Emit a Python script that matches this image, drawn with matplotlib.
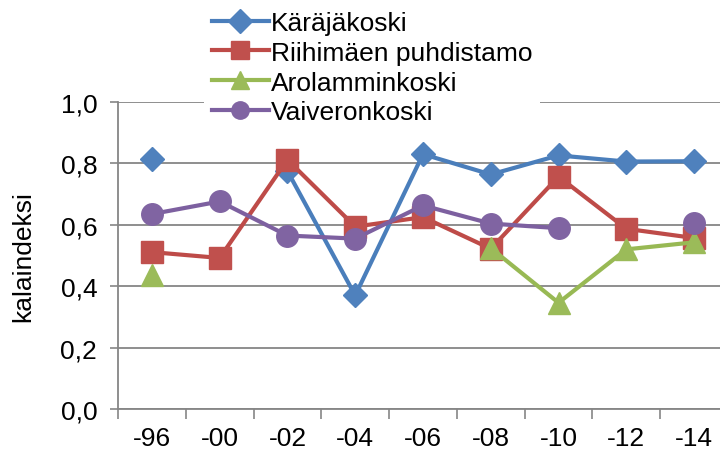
import numpy as np
import matplotlib
matplotlib.use("Agg")
import matplotlib.pyplot as plt

categories = ["-96", "-00", "-02", "-04", "-06", "-08", "-10", "-12", "-14"]
karajakoski = [0.815, np.nan, 0.775, 0.37, 0.83, 0.764, 0.826, 0.806, 0.807]
riihimaki = [0.511, 0.492, 0.812, 0.594, 0.625, 0.522, 0.757, 0.587, 0.557]
arolamminkoski = [0.438, np.nan, np.nan, np.nan, np.nan, 0.524, 0.346, 0.52, 0.543]
vaiveronkoski = [0.635, 0.676, 0.565, 0.555, 0.663, 0.604, 0.589, np.nan, 0.605]
series_names = ["Käräjäkoski", "Riihimäen puhdistamo", "Arolamminkoski", "Vaiveronkoski"]
y_ticks = [0.0, 0.2, 0.4, 0.6, 0.8, 1.0]

plt.rcParams['font.family'] = ['Liberation Sans', 'DejaVu Sans']
FS = 19

W, H = 720, 452
fig = plt.figure(figsize=(W / 100, H / 100), dpi=100)
ax_left, ax_right, ax_bottom, ax_top = 118, 728, 410, 103
ax = fig.add_axes([ax_left / W, (H - ax_bottom) / H, (ax_right - ax_left) / W, (ax_bottom - ax_top) / H])

x = np.arange(len(categories))
styles = [
    dict(color="#4A7EBB", marker="D", markersize=12.5, mfc="#4F81BD", mec="#4F81BD"),
    dict(color="#BE4B48", marker="s", markersize=15.5, mfc="#C0504D", mec="#C0504D"),
    dict(color="#98B954", marker="^", markersize=15.5, mfc="#9BBB59", mec="#9BBB59"),
    dict(color="#7D60A0", marker="o", markersize=15.5, mfc="#8064A2", mec="#8064A2"),
]
data = [karajakoski, riihimaki, arolamminkoski, vaiveronkoski]
for vals, name, st in zip(data, series_names, styles):
    ax.plot(x, vals, lw=3.0, label=name, clip_on=False, **st)

ax.set_xlim(-0.5, len(categories) - 0.5)
ax.set_ylim(0, 1.0)
ax.set_yticks(y_ticks)
ax.set_yticklabels([f"{v:.1f}".replace(".", ",") for v in y_ticks])
ax.set_xticks(np.arange(-0.5, len(categories), 1.0))
ax.set_xticklabels([])
ax.set_xticks(x, minor=True)
ax.set_xticklabels(categories, minor=True)
ax.tick_params(axis="x", which="major", length=7, width=1.2, color="#868686", direction="out")
ax.tick_params(axis="x", which="minor", length=0, pad=12, labelsize=FS)
ax.tick_params(axis="y", which="major", length=6, width=1.2, color="#868686", direction="out", pad=9, labelsize=FS)

ax.yaxis.grid(True, color="#868686", lw=1.3)
ax.set_axisbelow(True)
for s in ["top", "right"]:
    ax.spines[s].set_visible(False)
for s in ["left", "bottom"]:
    ax.spines[s].set_color("#868686")
    ax.spines[s].set_linewidth(1.3)

ax.set_ylabel("kalaindeksi", fontsize=FS, labelpad=18)

leg = fig.legend(loc="upper left", bbox_to_anchor=(204 / W, 1 - 4 / H), frameon=True,
                 fontsize=FS, handlelength=2.15, handletextpad=0.08, labelspacing=0.22,
                 borderpad=0.3, borderaxespad=0)
leg.get_frame().set_facecolor("white")
leg.get_frame().set_edgecolor("none")
leg.get_frame().set_alpha(1.0)
for h in leg.legend_handles:
    h.set_markersize(12.5)

fig.savefig("out.png", dpi=100)
